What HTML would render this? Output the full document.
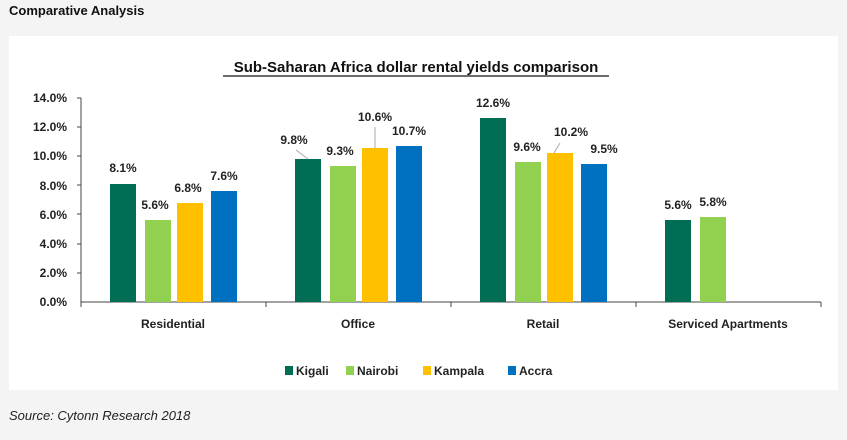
<!DOCTYPE html>
<html><head><meta charset="utf-8"><style>
body{margin:0;background:#f4f4f4;width:847px;height:435px;overflow:hidden;font-family:"Liberation Sans",sans-serif}
</style></head><body>
<svg width="847" height="435" xmlns="http://www.w3.org/2000/svg" font-family="Liberation Sans, sans-serif">
<rect width="847" height="435" fill="#f4f4f4"/>
<text x="9" y="15" font-size="13" font-weight="bold" fill="#111">Comparative Analysis</text>
<rect x="9" y="36" width="829" height="354" fill="#fff"/>
<text x="416" y="72" font-size="15" font-weight="bold" text-anchor="middle" fill="#111">Sub-Saharan Africa dollar rental yields comparison</text>
<line x1="223" y1="76" x2="609" y2="76" stroke="#111" stroke-width="1.3"/>
<g font-size="12" font-weight="bold" fill="#222" text-anchor="end">
<text x="67" y="306">0.0%</text><text x="67" y="277">2.0%</text><text x="67" y="248">4.0%</text><text x="67" y="219">6.0%</text><text x="67" y="190">8.0%</text><text x="67" y="160">10.0%</text><text x="67" y="131">12.0%</text><text x="67" y="102">14.0%</text>
</g>
<g stroke="#444" stroke-width="1">
<line x1="81" y1="98" x2="81" y2="302"/>
<line x1="81" y1="302" x2="821" y2="302"/>
<line x1="77" y1="98" x2="81" y2="98"/><line x1="77" y1="127" x2="81" y2="127"/><line x1="77" y1="156" x2="81" y2="156"/><line x1="77" y1="185" x2="81" y2="185"/><line x1="77" y1="214" x2="81" y2="214"/><line x1="77" y1="244" x2="81" y2="244"/><line x1="77" y1="273" x2="81" y2="273"/>
<line x1="81" y1="302" x2="81" y2="307"/><line x1="266" y1="302" x2="266" y2="307"/><line x1="451" y1="302" x2="451" y2="307"/><line x1="636" y1="302" x2="636" y2="307"/><line x1="821" y1="302" x2="821" y2="307"/>
</g>
<g>
<rect x="110" y="184" width="26" height="118" fill="#006d55"/>
<rect x="145" y="220" width="26" height="82" fill="#92d050"/>
<rect x="177" y="203" width="26" height="99" fill="#ffc000"/>
<rect x="211" y="191" width="26" height="111" fill="#0070c0"/>
<rect x="295" y="159" width="26" height="143" fill="#006d55"/>
<rect x="330" y="166" width="26" height="136" fill="#92d050"/>
<rect x="362" y="148" width="26" height="154" fill="#ffc000"/>
<rect x="396" y="146" width="26" height="156" fill="#0070c0"/>
<rect x="480" y="118" width="26" height="184" fill="#006d55"/>
<rect x="515" y="162" width="26" height="140" fill="#92d050"/>
<rect x="547" y="153" width="26" height="149" fill="#ffc000"/>
<rect x="581" y="164" width="26" height="138" fill="#0070c0"/>
<rect x="665" y="220" width="26" height="82" fill="#006d55"/>
<rect x="700" y="217" width="26" height="85" fill="#92d050"/>
</g>
<g stroke="#aaa" stroke-width="1">
<line x1="296" y1="150" x2="308" y2="159"/>
<line x1="375" y1="127" x2="375" y2="148"/>
<line x1="560" y1="143" x2="554" y2="153"/>
</g>
<g font-size="12" font-weight="bold" fill="#222" text-anchor="middle">
<text x="123" y="172">8.1%</text><text x="155" y="209">5.6%</text><text x="188" y="192">6.8%</text><text x="224" y="180">7.6%</text>
<text x="294" y="144">9.8%</text><text x="340" y="155">9.3%</text><text x="375" y="121">10.6%</text><text x="409" y="135">10.7%</text>
<text x="493" y="107">12.6%</text><text x="527" y="151">9.6%</text><text x="571" y="136">10.2%</text><text x="604" y="153">9.5%</text>
<text x="678" y="209">5.6%</text><text x="713" y="206">5.8%</text>
</g>
<g font-size="12" font-weight="bold" fill="#222" text-anchor="middle">
<text x="173" y="328">Residential</text><text x="358" y="328">Office</text><text x="543" y="328">Retail</text><text x="728" y="328">Serviced Apartments</text>
</g>
<g font-size="12" font-weight="bold" fill="#222">
<rect x="285" y="366" width="8" height="9" fill="#006d55"/><text x="296" y="375">Kigali</text>
<rect x="346" y="366" width="8" height="9" fill="#92d050"/><text x="357" y="375">Nairobi</text>
<rect x="423" y="366" width="8" height="9" fill="#ffc000"/><text x="434" y="375">Kampala</text>
<rect x="508" y="366" width="8" height="9" fill="#0070c0"/><text x="519" y="375">Accra</text>
</g>
<text x="9" y="420" font-size="13" font-style="italic" fill="#222">Source: Cytonn Research 2018</text>
</svg>
</body></html>
